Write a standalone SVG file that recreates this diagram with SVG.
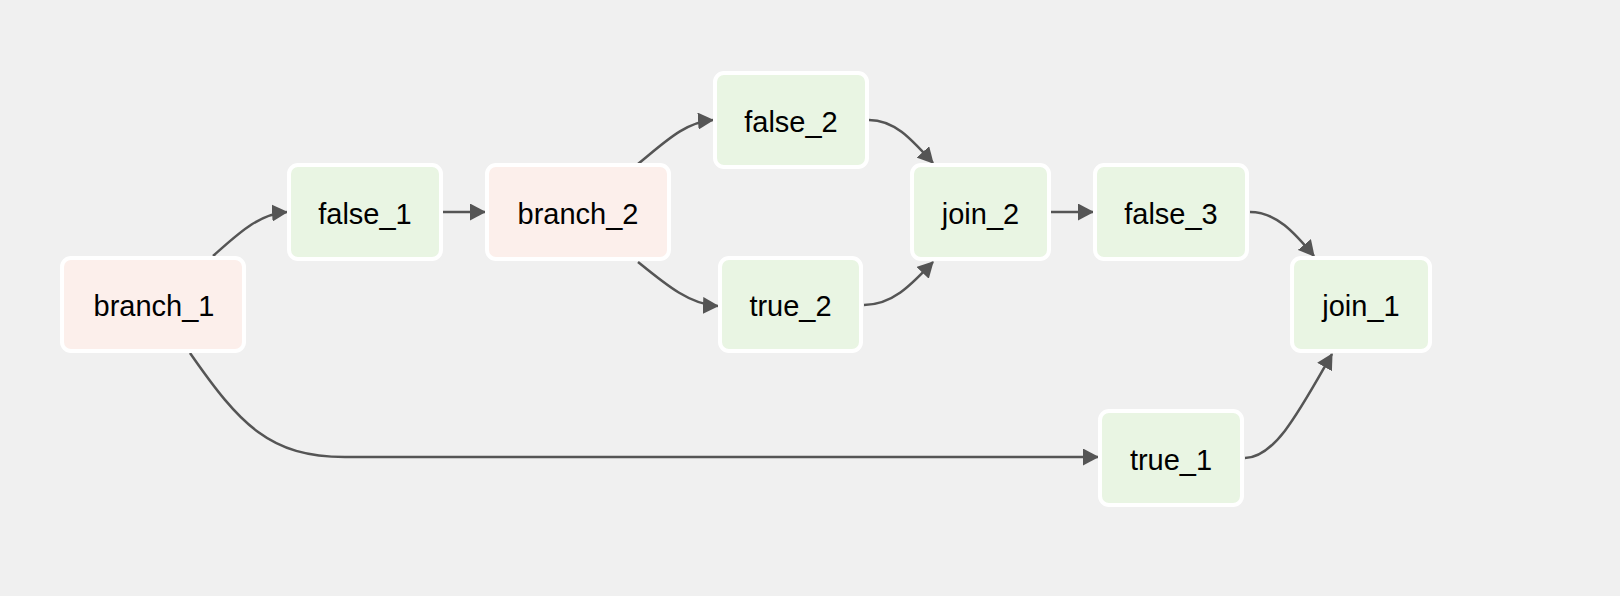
<svg xmlns="http://www.w3.org/2000/svg" width="1620" height="596" viewBox="0 0 1620 596">
<style>
.node rect{stroke:#ffffff;stroke-width:4}
.branch rect{fill:#fcefeb}
.task rect{fill:#e9f5e3}
.node text{font-family:"Liberation Sans",Arial,Helvetica,sans-serif;font-size:29px;fill:#000;text-anchor:middle}
.edge{fill:none;stroke:#555555;stroke-width:2.5}
</style>
<defs>
<marker id="arrow" markerUnits="userSpaceOnUse" markerWidth="16" markerHeight="17" refX="15" refY="8.5" orient="auto" viewBox="0 0 16 17">
<path d="M0,0 L16,8.5 L0,17 z" fill="#555555"/>
</marker>
</defs>
<rect x="0" y="0" width="1620" height="596" fill="#f0f0f0"/>
<g id="connectors">
<path class="edge" marker-end="url(#arrow)" d="M213,256 C238,234 258,214 287,212"/>
<path class="edge" marker-end="url(#arrow)" d="M190,353 C240,425 270,457 345,457 L1098,457"/>
<path class="edge" marker-end="url(#arrow)" d="M443,212 L485,212"/>
<path class="edge" marker-end="url(#arrow)" d="M638,164 C665,142 685,122 713,120"/>
<path class="edge" marker-end="url(#arrow)" d="M638,262 C665,284 690,305 718,306"/>
<path class="edge" marker-end="url(#arrow)" d="M869,120 C895,120 912,140 933,163"/>
<path class="edge" marker-end="url(#arrow)" d="M864,305 C893,305 912,284 933,262"/>
<path class="edge" marker-end="url(#arrow)" d="M1051,212 L1093,212"/>
<path class="edge" marker-end="url(#arrow)" d="M1250,212 C1276,212 1294,232 1314,256"/>
<path class="edge" marker-end="url(#arrow)" d="M1245,458 C1275,458 1300,410 1332,354"/>
</g>
<g id="branch_1" class="node branch"><rect x="62" y="258" width="182" height="93" rx="9"/><text x="154" y="316">branch_1</text></g>
<g id="false_1" class="node task"><rect x="289" y="165" width="152" height="94" rx="9"/><text x="365" y="224">false_1</text></g>
<g id="branch_2" class="node branch"><rect x="487" y="165" width="182" height="94" rx="9"/><text x="578" y="224">branch_2</text></g>
<g id="false_2" class="node task"><rect x="715" y="73" width="152" height="94" rx="9"/><text x="791" y="132">false_2</text></g>
<g id="true_2" class="node task"><rect x="720" y="258" width="141" height="93" rx="9"/><text x="790.5" y="316">true_2</text></g>
<g id="join_2" class="node task"><rect x="912" y="165" width="137" height="94" rx="9"/><text x="980.5" y="224">join_2</text></g>
<g id="false_3" class="node task"><rect x="1095" y="165" width="152" height="94" rx="9"/><text x="1171" y="224">false_3</text></g>
<g id="true_1" class="node task"><rect x="1100" y="411" width="142" height="94" rx="9"/><text x="1171" y="470">true_1</text></g>
<g id="join_1" class="node task"><rect x="1292" y="258" width="138" height="93" rx="9"/><text x="1361" y="316">join_1</text></g>
</svg>
